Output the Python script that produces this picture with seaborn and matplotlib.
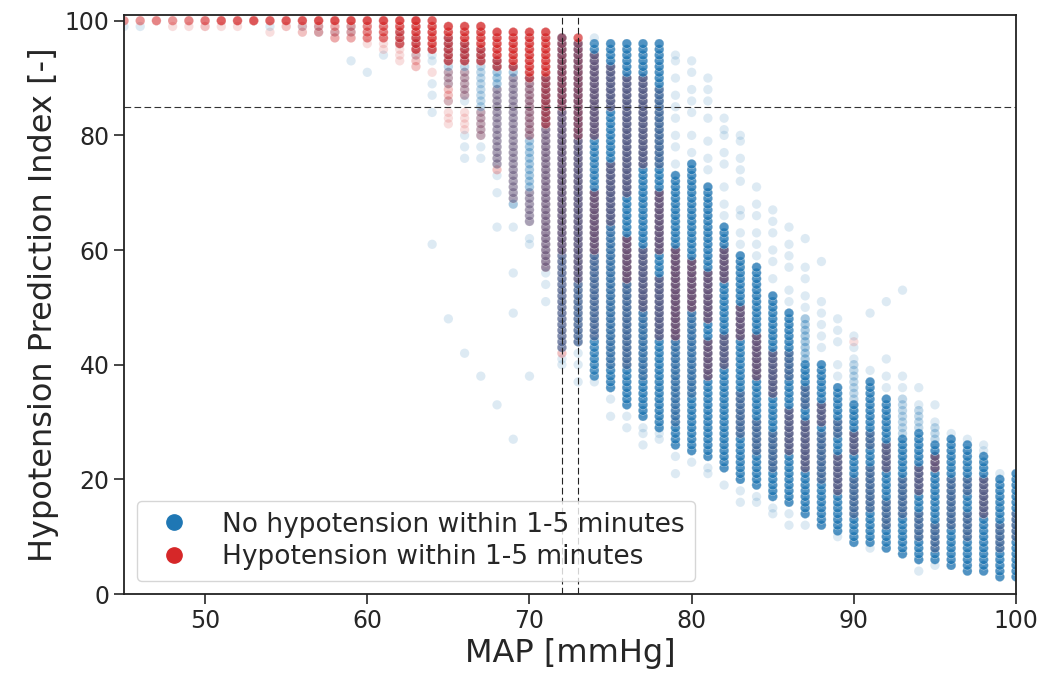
import numpy as np
import pandas as pd
import matplotlib
matplotlib.use("Agg")
import matplotlib.pyplot as plt
from matplotlib.lines import Line2D
import seaborn as sns

# ------------------------------------------------------------
# Data.
# HPI values sit on an integer grid in each integer MAP column, so the
# dense parts are stored as runs: (MAP, lowest HPI, highest HPI, samples
# per HPI value). Isolated dots are listed one by one.
# ------------------------------------------------------------
no_hypo_runs = [
    (45, 99, 99, 1), (46, 99, 99, 1), (54, 99, 99, 1), (56, 99, 99, 1),
    (57, 98, 99, 1), (58, 98, 98, 1), (59, 98, 99, 1),
    (62, 96, 98, 1), (63, 94, 97, 1), (64, 93, 95, 1),
    (65, 89, 97, 2),
    (66, 87, 96, 2),
    (67, 80, 95, 2),
    (68, 93, 93, 3), (68, 75, 92, 3),
    (69, 68, 92, 3),
    (70, 65, 90, 3),
    (71, 57, 90, 4),
    (72, 43, 97, 6),
    (73, 44, 96, 7),
    (74, 38, 96, 8),
    (75, 36, 96, 9),
    (76, 33, 96, 9),
    (77, 31, 96, 9),
    (78, 29, 96, 9),
    (79, 26, 73, 9),
    (80, 25, 75, 9),
    (81, 24, 71, 9),
    (82, 22, 64, 9),
    (83, 20, 59, 9),
    (84, 19, 57, 9),
    (85, 17, 52, 9),
    (86, 16, 49, 9),
    (87, 14, 40, 9), (87, 41, 48, 3),
    (88, 12, 40, 9),
    (89, 11, 36, 9),
    (90, 9, 33, 9), (90, 34, 40, 2),
    (91, 9, 37, 9),
    (92, 8, 34, 9),
    (93, 7, 27, 9), (93, 28, 34, 2),
    (94, 6, 28, 9), (94, 29, 32, 2),
    (95, 6, 26, 9), (95, 27, 29, 2),
    (96, 5, 27, 9),
    (97, 4, 26, 9),
    (98, 4, 24, 9),
    (99, 3, 20, 9),
    (100, 3, 21, 9),
]

no_hypo_single = {
    59: [93], 60: [91], 61: [94], 64: [89, 87, 84, 61], 65: [86, 48],
    66: [86, 80, 78, 76, 42], 67: [78, 76, 38], 68: [73, 70, 64, 33],
    69: [64, 56, 49, 27], 70: [62, 61, 38], 71: [56, 54, 51],
    72: [41, 40], 73: [42, 40, 37], 74: [97, 37], 75: [34, 31],
    76: [31, 29], 77: [29, 28, 26], 78: [28, 27],
    79: [94, 93, 90, 87, 85, 83, 80, 78, 75, 24, 21],
    80: [93, 91, 88, 86, 84, 80, 77, 23],
    81: [90, 88, 86, 83, 79, 76, 74, 22, 21],
    82: [83, 81, 80, 77, 75, 71, 68, 66, 19],
    83: [80, 79, 76, 74, 72, 67, 66, 63, 61, 18, 16],
    84: [71, 68, 66, 63, 61, 59, 17, 16],
    85: [67, 65, 63, 60, 58, 55, 15, 14],
    86: [64, 61, 59, 57, 53, 51, 14, 12],
    87: [62, 57, 55, 52, 50, 12],
    88: [58, 51, 49, 47, 45, 43],
    89: [48, 46, 44, 40, 38, 10],
    90: [45, 43, 41], 91: [49, 39, 8], 92: [51, 41, 38, 36],
    93: [53, 38, 36], 94: [36, 33, 4], 95: [33, 30, 5],
    96: [28], 97: [27], 98: [26, 25], 99: [21],
}

hypo_runs = [
    (45, 100, 100, 4), (46, 100, 100, 4), (47, 100, 100, 5),
    (48, 100, 100, 4), (48, 99, 99, 1), (49, 100, 100, 5), (49, 99, 99, 1),
    (50, 100, 100, 6), (50, 99, 99, 2), (51, 100, 100, 8), (51, 99, 99, 1),
    (52, 100, 100, 8), (52, 99, 99, 1), (53, 100, 100, 9),
    (54, 100, 100, 8), (54, 98, 98, 1), (55, 100, 100, 9), (55, 99, 99, 2),
    (56, 100, 100, 9), (56, 98, 99, 2), (57, 100, 100, 10), (57, 98, 99, 3),
    (58, 100, 100, 10), (58, 97, 99, 3), (59, 100, 100, 10), (59, 97, 99, 3),
    (60, 100, 100, 10), (60, 97, 99, 5), (60, 96, 96, 1),
    (61, 100, 100, 10), (61, 97, 99, 6), (61, 95, 96, 1),
    (62, 100, 100, 10), (62, 96, 99, 8), (62, 93, 95, 1),
    (63, 100, 100, 12), (63, 95, 99, 9), (63, 92, 94, 2),
    (64, 100, 100, 8), (64, 95, 99, 9), (64, 91, 91, 1),
    (65, 93, 99, 9), (65, 86, 91, 2), (65, 82, 84, 1),
    (66, 93, 99, 9), (66, 87, 91, 2), (66, 81, 84, 1),
    (67, 93, 99, 9), (67, 80, 84, 2),
    (68, 92, 98, 9), (68, 74, 88, 2),
    (69, 92, 98, 9), (69, 69, 90, 2),
    (70, 90, 98, 9), (70, 80, 89, 3), (70, 65, 70, 2),
    (71, 82, 98, 9), (71, 57, 81, 3),
    (72, 85, 97, 8), (72, 60, 84, 4), (72, 42, 59, 2),
    (73, 80, 97, 7), (73, 55, 79, 4), (73, 44, 54, 2),
    (74, 80, 94, 5), (74, 60, 70, 6), (74, 45, 59, 2),
    (75, 85, 92, 4), (75, 65, 75, 4), (75, 40, 64, 1),
    (76, 70, 90, 4), (76, 55, 62, 7), (76, 40, 54, 2),
    (77, 75, 90, 4), (77, 50, 60, 4), (77, 38, 49, 1),
    (78, 60, 70, 6), (78, 45, 55, 4), (78, 75, 88, 2),
    (79, 45, 60, 7), (79, 30, 44, 1),
    (80, 50, 58, 7), (80, 35, 49, 1),
    (81, 48, 56, 6), (81, 38, 44, 6),
    (82, 55, 60, 6), (82, 40, 45, 4),
    (83, 45, 50, 6), (83, 28, 35, 2),
    (84, 38, 45, 6), (84, 25, 30, 2),
    (85, 35, 42, 4), (85, 22, 28, 2),
    (86, 25, 32, 4), (86, 38, 42, 2),
    (87, 22, 30, 4), (87, 33, 36, 2),
    (88, 20, 28, 2), (88, 30, 33, 4),
    (89, 18, 24, 4), (89, 28, 30, 2),
    (90, 14, 20, 2), (90, 25, 28, 4), (90, 44, 44, 1),
    (91, 15, 22, 2), (91, 26, 28, 2),
    (92, 12, 16, 2), (92, 22, 26, 4),
    (93, 14, 20, 2),
    (94, 10, 14, 2), (94, 18, 22, 4),
    (95, 8, 12, 2), (95, 22, 24, 6),
    (96, 12, 20, 2),
    (97, 10, 14, 2), (97, 18, 20, 2),
    (98, 14, 20, 4),
    (99, 8, 12, 2),
    (100, 10, 14, 2),
]

label_no = "No hypotension within 1-5 minutes"
label_yes = "Hypotension within 1-5 minutes"
hpi_threshold = 85
map_markers = [72, 73]

# ------------------------------------------------------------
# Build the long table; blue and red samples at the same spot are
# interleaved so overlapping dots blend like in the original
# ------------------------------------------------------------
counts = {}
for m, lo, hi, n in no_hypo_runs:
    for h in range(lo, hi + 1):
        counts.setdefault((m, h), [0, 0])[0] += n
for m, vals in no_hypo_single.items():
    for h in vals:
        counts.setdefault((m, h), [0, 0])[0] += 1
for m, lo, hi, n in hypo_runs:
    for h in range(lo, hi + 1):
        counts.setdefault((m, h), [0, 0])[1] += n

rows = []
for (m, h), (nb, nr) in sorted(counts.items()):
    seq = [((i + 0.5) / nb, 0, label_no) for i in range(nb)]
    seq += [((j + 0.5) / nr, 1, label_yes) for j in range(nr)]
    for _, _, lab in sorted(seq):
        rows.append((m, h, lab))

df = pd.DataFrame(rows, columns=["MAP", "HPI", "Outcome"])

# ------------------------------------------------------------
# Plot
# ------------------------------------------------------------
sns.set_style("ticks")
plt.rcParams["font.family"] = ["DejaVu Sans"]

fig = plt.figure(figsize=(10.49, 6.88), dpi=100)
ax = fig.add_axes([0.1182, 0.1366, 0.8504, 0.8416])

palette = {label_no: "#1f77b4", label_yes: "#d62728"}
sns.scatterplot(
    data=df, x="MAP", y="HPI", hue="Outcome", palette=palette,
    s=45, alpha=0.15, edgecolor="white", linewidth=0.3,
    legend=False, ax=ax,
)

ax.axhline(hpi_threshold, color="#333333", lw=0.8, dashes=(6, 3))
for m in map_markers:
    ax.axvline(m, color="#222222", lw=0.8, dashes=(6, 3))

ax.set_xlim(45, 100)
ax.set_ylim(0, 101)
ax.set_xticks([50, 60, 70, 80, 90, 100])
ax.set_yticks([0, 20, 40, 60, 80, 100])
ax.tick_params(labelsize=17, length=7, width=1.2)
for sp in ax.spines.values():
    sp.set_linewidth(1.3)
    sp.set_color("#222222")

ax.set_xlabel("MAP [mmHg]", fontsize=23)
ax.set_ylabel("Hypotension Prediction Index [-]", fontsize=23)

handles = [
    Line2D([], [], marker="o", ls="", color=palette[label_no], markersize=11),
    Line2D([], [], marker="o", ls="", color=palette[label_yes], markersize=11),
]
ax.legend(handles, [label_no, label_yes], loc="lower left", fontsize=19,
          labelspacing=0.25, frameon=True, edgecolor="#cccccc", framealpha=0.8)

fig.savefig("out.png", dpi=100)
